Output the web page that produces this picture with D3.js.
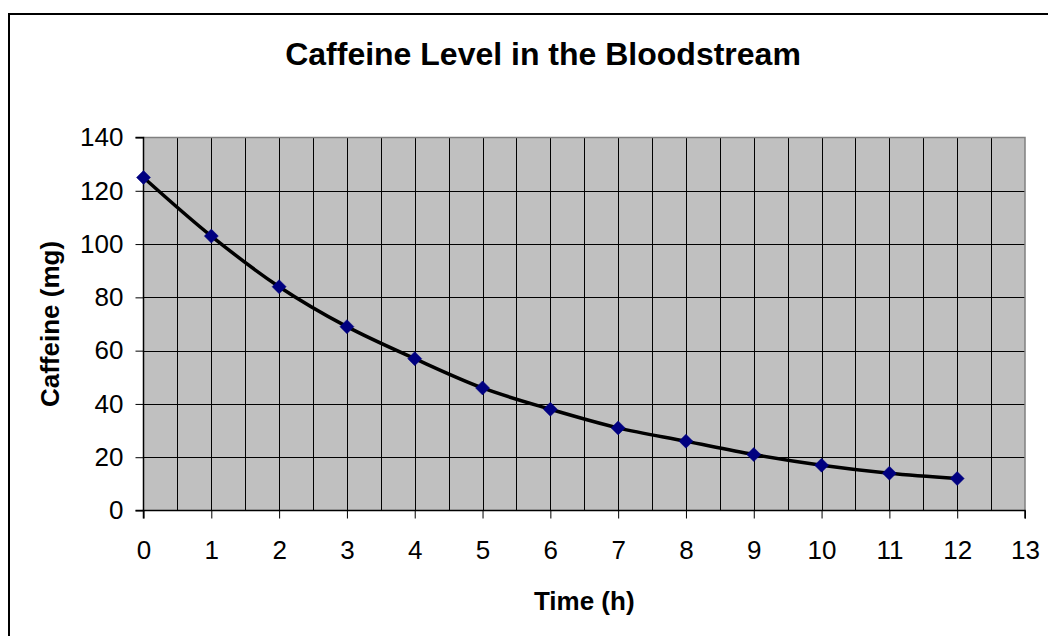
<!DOCTYPE html>
<html>
<head>
<meta charset="utf-8">
<script src="https://cdn.jsdelivr.net/npm/d3@7"></script>
<style>
  html, body { margin: 0; padding: 0; background: #fff; }
  svg { display: block; font-family: "Liberation Sans", Arial, sans-serif; }
</style>
</head>
<body>
<svg id="chart" width="1048" height="636"></svg>
<script>
// Caffeine remaining in the bloodstream, hourly readings
const hours = [0, 1, 2, 3, 4, 5, 6, 7, 8, 9, 10, 11, 12];
const caffeineMg = [125, 103, 84, 69, 57, 46, 38, 31, 26, 21, 17, 14, 12];
const xTickValues = [0, 1, 2, 3, 4, 5, 6, 7, 8, 9, 10, 11, 12, 13];
const yTickValues = [0, 20, 40, 60, 80, 100, 120, 140];
const xGridValues = d3.range(0, 13.01, 0.5);

const titleText = "Caffeine Level in the Bloodstream";
const xLabelText = "Time (h)";
const yLabelText = "Caffeine (mg)";

const svg = d3.select("#chart");
const plot = { left: 143.5, right: 1025, top: 137.5, bottom: 510.5 };

const x = d3.scaleLinear().domain([0, 13]).range([plot.left, plot.right]);
const y = d3.scaleLinear().domain([0, 140]).range([plot.bottom, plot.top]);

// outer chart frame (runs past the right and bottom edges)
svg.append("rect")
  .attr("x", 9).attr("y", 14)
  .attr("width", 1100).attr("height", 700)
  .attr("fill", "#fff").attr("stroke", "#000").attr("stroke-width", 2);

// plot background
svg.append("rect")
  .attr("x", plot.left).attr("y", plot.top)
  .attr("width", plot.right - plot.left).attr("height", plot.bottom - plot.top)
  .attr("fill", "#c0c0c0");

// vertical gridlines every half hour
svg.append("g").selectAll("line").data(xGridValues.slice(1, -1)).join("line")
  .attr("x1", d => Math.round(x(d)) + 0.5).attr("x2", d => Math.round(x(d)) + 0.5)
  .attr("y1", plot.top).attr("y2", plot.bottom)
  .attr("stroke", "#000").attr("stroke-width", 1);

// horizontal gridlines
svg.append("g").selectAll("line").data(yTickValues.slice(1, -1)).join("line")
  .attr("x1", plot.left).attr("x2", plot.right)
  .attr("y1", d => Math.round(y(d)) + 0.5).attr("y2", d => Math.round(y(d)) + 0.5)
  .attr("stroke", "#000").attr("stroke-width", 1);

// plot frame top and right in grey
svg.append("path")
  .attr("d", `M${plot.left},${plot.top}H${plot.right}V${plot.bottom}`)
  .attr("fill", "none").attr("stroke", "#808080").attr("stroke-width", 1.5);

// axes
const xAxis = d3.axisBottom(x).tickValues(xTickValues).tickSize(8).tickPadding(22)
  .tickFormat(d3.format("d"));
const yAxis = d3.axisLeft(y).tickValues(yTickValues).tickSize(8).tickPadding(12)
  .tickFormat(d3.format("d"));

const gx = svg.append("g").attr("transform", `translate(0,${plot.bottom})`).call(xAxis);
const gy = svg.append("g").attr("transform", `translate(${plot.left},0)`).call(yAxis);
[gx, gy].forEach(g => {
  g.select(".domain").attr("stroke", "#000").attr("stroke-width", 1.5);
  g.selectAll(".tick line").attr("stroke", "#000").attr("stroke-width", 1);
  g.selectAll("text").attr("font-size", 26).attr("fill", "#000")
    .attr("font-family", "'Liberation Sans', Arial, sans-serif");
});
gy.select(".domain").attr("d", `M-8,${plot.top}H0V${plot.bottom}H-8`);
gx.select(".domain").attr("d", `M${plot.left},8V0H${plot.right}V8`);

// smoothed decay curve
const pts = hours.map((h, i) => [h, caffeineMg[i]]);
svg.append("path")
  .datum(pts)
  .attr("d", d3.line().x(d => x(d[0])).y(d => y(d[1])).curve(d3.curveCatmullRom.alpha(0.5)))
  .attr("fill", "none").attr("stroke", "#000").attr("stroke-width", 3.5);

// diamond markers
svg.append("g").selectAll("path").data(pts).join("path")
  .attr("transform", d => `translate(${x(d[0])},${y(d[1])})`)
  .attr("d", "M0,-7L7,0L0,7L-7,0Z")
  .attr("fill", "#000080").attr("stroke", "#000080").attr("stroke-width", 0.5);

// titles
svg.append("text")
  .attr("x", 543).attr("y", 65)
  .attr("text-anchor", "middle")
  .attr("font-size", 32).attr("font-weight", "bold")
  .text(titleText);

svg.append("text")
  .attr("x", (plot.left + plot.right) / 2).attr("y", 610)
  .attr("text-anchor", "middle")
  .attr("font-size", 26).attr("font-weight", "bold")
  .text(xLabelText);

svg.append("text")
  .attr("transform", `translate(59,${(plot.top + plot.bottom) / 2}) rotate(-90)`)
  .attr("text-anchor", "middle")
  .attr("font-size", 26).attr("font-weight", "bold")
  .text(yLabelText);
</script>
</body>
</html>
